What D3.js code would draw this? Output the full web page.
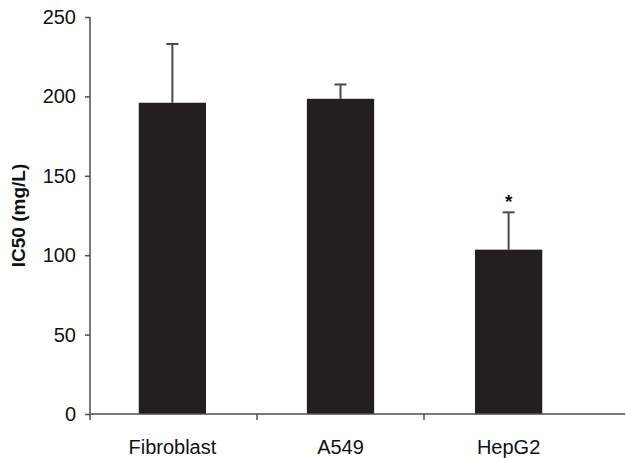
<!DOCTYPE html>
<html><head><meta charset="utf-8">
<script src="https://cdn.jsdelivr.net/npm/d3@7"></script>
<style>body{margin:0;background:#fff}svg{display:block}</style>
</head><body>
<script>
const categories = ["Fibroblast", "A549", "HepG2"];
const values = [196, 198.5, 103.5];
const errors = [37, 9, 23.5];
const marks = ["", "", "*"];
const yTicks = [0, 50, 100, 150, 200, 250];
const yLabel = "IC50 (mg/L)";

const W = 626, H = 458;
const svg = d3.select("body").append("svg").attr("width", W).attr("height", H);
const x0 = 90, x1 = 591, yTop = 17, yBot = 414;
const x = d3.scaleBand().domain(categories).range([x0, x1]).paddingInner(0.6).paddingOuter(0.29);
const y = d3.scaleLinear().domain([0, 250]).range([yBot, yTop]);
const font = "Liberation Sans, Arial, Helvetica, sans-serif";
const axisCol = "#4d4d4d";

// bars
svg.selectAll("rect.bar").data(categories).join("rect")
  .attr("x", d => x(d)).attr("width", x.bandwidth())
  .attr("y", (d,i) => y(values[i])).attr("height", (d,i) => y(0) - y(values[i]))
  .attr("fill", "#231f20");

// error bars
const eg = svg.append("g").attr("stroke", "#4a4a4a").attr("stroke-width", 2);
categories.forEach((c, i) => {
  const cx = x(c) + x.bandwidth()/2;
  eg.append("line").attr("x1", cx).attr("x2", cx).attr("y1", y(values[i])).attr("y2", y(values[i] + errors[i]));
  eg.append("line").attr("x1", cx - 6).attr("x2", cx + 6).attr("y1", y(values[i] + errors[i])).attr("y2", y(values[i] + errors[i]));
  if (marks[i]) svg.append("text").attr("x", cx).attr("y", y(values[i] + errors[i]) - 4)
    .attr("text-anchor", "middle").attr("font-family", font).attr("font-size", 19).attr("font-weight", "bold")
    .attr("fill", "#111").text(marks[i]);
});

// y axis
const ya = svg.append("g").attr("transform", `translate(${x0},0)`)
  .call(d3.axisLeft(y).tickValues(yTicks).tickSize(5).tickPadding(9).tickFormat(d3.format("d")));
ya.select(".domain").attr("stroke", axisCol).attr("stroke-width", 1.5).attr("d", `M0,${yTop}V${yBot}`);
ya.selectAll(".tick line").attr("stroke", axisCol).attr("stroke-width", 1.5);
ya.selectAll(".tick text").attr("font-family", font).attr("font-size", 20).attr("fill", "#111");

// x axis
const xa = svg.append("g").attr("transform", `translate(0,${yBot})`);
xa.append("line").attr("x1", x0).attr("x2", 625).attr("stroke", axisCol).attr("stroke-width", 1.5);
categories.forEach((c, i) => {
  const bx = x0 + i * (x1 - x0) / categories.length;
  xa.append("line").attr("x1", bx).attr("x2", bx).attr("y1", 0).attr("y2", 6).attr("stroke", axisCol).attr("stroke-width", 1.5);
});
xa.selectAll("text.cat").data(categories).join("text")
  .attr("x", d => x(d) + x.bandwidth()/2).attr("y", 40)
  .attr("text-anchor", "middle").attr("font-family", font).attr("font-size", 20).attr("fill", "#111").text(d => d);

// y label
svg.append("text").attr("transform", `translate(25,${(yTop + yBot)/2}) rotate(-90)`)
  .attr("text-anchor", "middle").attr("font-family", font).attr("font-size", 19).attr("font-weight", "bold")
  .attr("fill", "#111").text(yLabel);
</script>
</body></html>
